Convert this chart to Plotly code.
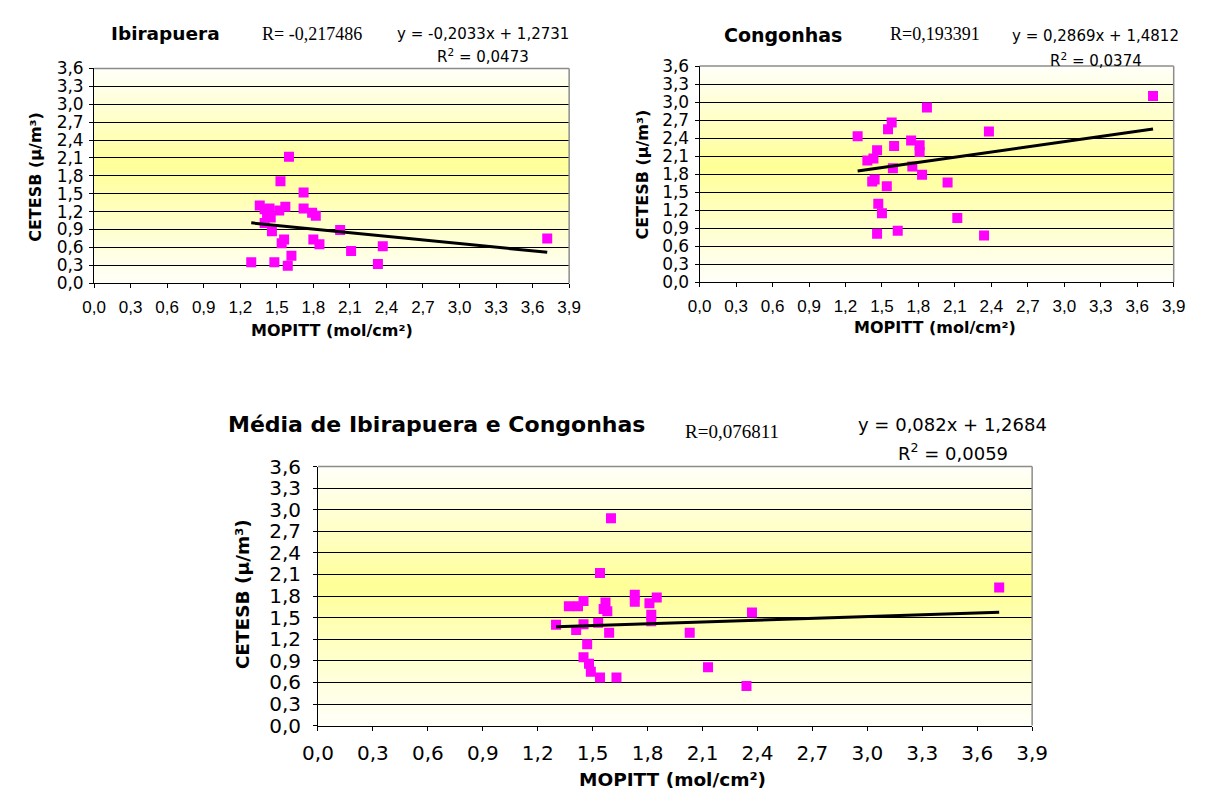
import plotly.graph_objects as go

# ---------------- data ----------------
mopitt_ibira = [1.29, 1.36, 1.40, 1.40, 1.42, 1.44, 1.45, 1.46, 1.48, 1.52, 1.53, 1.54, 1.56, 1.57,
                1.59, 1.60, 1.62, 1.72, 1.72, 1.79, 1.82, 1.80, 1.85, 2.02, 2.11, 2.33, 2.37, 3.72]
cetesb_ibira = [0.35, 1.30, 1.01, 1.24, 1.16, 1.25, 1.10, 0.87, 0.35, 1.22, 1.71, 0.67, 0.73, 1.28,
                0.29, 2.12, 0.46, 1.52, 1.25, 1.18, 1.13, 0.73, 0.65, 0.89, 0.54, 0.32, 0.62, 0.75]

mopitt_cong = [1.30, 1.38, 1.42, 1.43, 1.44, 1.46, 1.46, 1.47, 1.50, 1.54, 1.55, 1.58, 1.59, 1.60,
               1.63, 1.74, 1.75, 1.81, 1.81, 1.83, 1.87, 2.04, 2.12, 2.34, 2.38, 3.73]
cetesb_cong = [2.43, 2.03, 1.68, 2.06, 1.71, 2.20, 0.81, 1.31, 1.15, 1.60, 2.55, 2.66, 1.90, 2.27,
               0.86, 2.36, 1.93, 2.28, 2.17, 1.79, 2.91, 1.66, 1.07, 0.78, 2.51, 3.10]

mopitt_media = [1.30, 1.37, 1.41, 1.42, 1.45, 1.45, 1.45, 1.47, 1.48, 1.49, 1.53, 1.54, 1.54, 1.56,
                1.57, 1.58, 1.59, 1.60, 1.63, 1.73, 1.73, 1.81, 1.82, 1.82, 1.85, 2.03, 2.13, 2.34,
                2.37, 3.72]
cetesb_media = [1.40, 1.66, 1.33, 1.66, 1.41, 1.73, 0.95, 1.13, 0.86, 0.75, 1.43, 2.12, 0.67, 1.62,
                1.71, 1.59, 1.29, 2.88, 0.67, 1.82, 1.72, 1.70, 1.54, 1.45, 1.78, 1.29, 0.81, 0.55,
                1.57, 1.92]

# trend line coefficients (as printed on the chart)
trend_ibira = (-0.2033, 1.2731)
trend_cong = (0.2869, 1.4812)
trend_media = (0.082, 1.2684)

titles = ["Ibirapuera", "Congonhas", "Média de Ibirapuera e Congonhas"]
r_texts = ["R= -0,217486", "R=0,193391", "R=0,076811"]
eq_texts = ["y = -0,2033x + 1,2731", "y = 0,2869x + 1,4812", "y = 0,082x + 1,2684"]
r2_texts = ["R<sup>2</sup> = 0,0473", "R<sup>2</sup> = 0,0374", "R<sup>2</sup> = 0,0059"]
x_title = "MOPITT (mol/cm²)"
y_title = "CETESB (µ/m³)"

# ---------------- layout geometry (page pixels) ----------------
OFF = 8            # the page body adds an 8px margin around the figure
W, H = 1215 - OFF, 805 - OFF
NARROW = "Liberation Sans Narrow, Arial Narrow, Liberation Sans, sans-serif"
DEJA = "DejaVu Sans, Verdana, sans-serif"
SERIF = "Liberation Serif, Times New Roman, serif"

panels = [
    dict(box=(80, 568, 58, 279.3), xtf=(NARROW, 17), ytf=(DEJA, 17), xso=4, yso=2,
         ttl=18.5, r=18, eq=15, ax=16),
    dict(box=(702, 1189, 55.5, 278.5), xtf=(NARROW, 17), ytf=(DEJA, 17), xso=4, yso=2,
         ttl=19, r=18, eq=15, ax=16),
    dict(box=(310, 1043.6, 468.4, 735.5), xtf=(DEJA, 20), ytf=(DEJA, 20), xso=5, yso=8,
         ttl=22, r=19, eq=18, ax=18.5),
]
series = [(mopitt_ibira, cetesb_ibira, trend_ibira),
          (mopitt_cong, cetesb_cong, trend_cong),
          (mopitt_media, cetesb_media, trend_media)]

fig = go.Figure()
layout = dict(width=W, height=H, margin=dict(l=0, r=0, t=0, b=0),
              paper_bgcolor="white", plot_bgcolor="white", showlegend=False,
              separators=", ", shapes=[], annotations=[])


def px(x):
    return (x - OFF) / W


def py(y):
    return 1 - (y - OFF) / H


def grad(f):
    # f = fraction from bottom (0) to top (1)
    peak = 0.54
    if f <= peak:
        t = f / peak
    else:
        t = 1 - (f - peak) / (1 - peak)
    t = max(0.0, min(1.0, t)) ** 1.1
    top = (255, 255, 248)
    yel = (255, 255, 150)
    c = [round(top[i] + (yel[i] - top[i]) * t) for i in range(3)]
    return "rgb(%d,%d,%d)" % tuple(c)


N = 72
for i, (p, (xs, ys, (m, b))) in enumerate(zip(panels, series)):
    k = "" if i == 0 else str(i + 1)
    xa, ya = "x" + k, "y" + k
    x0, x1, yt, yb = p["box"]
    layout["xaxis" + k] = dict(domain=[px(x0), px(x1)], range=[0, 3.9], dtick=0.3, tick0=0,
                               tickformat=".1f", showgrid=False, zeroline=False,
                               showline=True, linecolor="black", linewidth=1,
                               ticks="outside", ticklen=4, tickcolor="black",
                               ticklabelstandoff=p["xso"],
                               tickfont=dict(family=p["xtf"][0], size=p["xtf"][1], color="black"),
                               anchor=ya, fixedrange=True)
    layout["yaxis" + k] = dict(domain=[py(yb), py(yt)], range=[0, 3.6], dtick=0.3, tick0=0,
                               tickformat=".1f", showgrid=True, gridcolor="black", gridwidth=1,
                               zeroline=False, showline=True, linecolor="black", linewidth=1,
                               ticks="outside", ticklen=4, tickcolor="black",
                               ticklabelstandoff=p["yso"],
                               tickfont=dict(family=p["ytf"][0], size=p["ytf"][1], color="black"),
                               anchor=xa, fixedrange=True)
    # gradient background strips
    for j in range(N):
        layout["shapes"].append(dict(type="rect", xref=xa + " domain", yref=ya + " domain",
                                     x0=0, x1=1, y0=j / N, y1=(j + 1) / N + 0.002,
                                     fillcolor=grad((j + 0.5) / N), line=dict(width=0),
                                     layer="below"))
    # gray frame (top and right edges)
    layout["shapes"].append(dict(type="line", xref=xa + " domain", yref=ya + " domain",
                                 x0=0, x1=1, y0=1, y1=1, line=dict(color="#8c8c8c", width=1.5),
                                 layer="above"))
    layout["shapes"].append(dict(type="line", xref=xa + " domain", yref=ya + " domain",
                                 x0=1, x1=1, y0=0, y1=1, line=dict(color="#8c8c8c", width=1.5),
                                 layer="above"))

    fig.add_trace(go.Scatter(x=xs, y=ys, mode="markers", xaxis=xa, yaxis=ya,
                             marker=dict(symbol="square", size=10, color="#FF00FF",
                                         line=dict(width=0))))
    tx = [min(xs), max(xs)]
    fig.add_trace(go.Scatter(x=tx, y=[m * v + b for v in tx], mode="lines", xaxis=xa, yaxis=ya,
                             line=dict(color="black", width=3)))


# ---------------- texts ----------------
def ann(text, x, y, size, bold=False, family=DEJA, angle=0):
    layout["annotations"].append(dict(
        text=("<b>%s</b>" % text) if bold else text, x=px(x), y=py(y),
        xref="paper", yref="paper", xanchor="center", yanchor="middle",
        showarrow=False, textangle=angle, font=dict(family=family, size=size, color="black")))


text_pos = [
    dict(t=(153, 22), r=(304, 22), e=(480, 22), r2=(480, 45), xt=(324, 328), yt=(19, 170)),
    dict(t=(788, 23), r=(944, 22), e=(1109, 25), r2=(1109, 49), xt=(944, 325), yt=(643, 167)),
    dict(t=(432, 425), r=(735, 432), e=(962, 425), r2=(962, 453), xt=(674, 791), yt=(232, 600)),
]
for i, (p, tp) in enumerate(zip(panels, text_pos)):
    ann(titles[i], *tp["t"], p["ttl"], bold=True)
    ann(r_texts[i], *tp["r"], p["r"], family=SERIF)
    ann(eq_texts[i], *tp["e"], p["eq"])
    ann(r2_texts[i], *tp["r2"], p["eq"])
    ann(x_title, *tp["xt"], p["ax"], bold=True)
    ann(y_title, *tp["yt"], p["ax"], bold=True, angle=-90)

fig.update_layout(**layout)
fig.write_html("out.html", config={"displayModeBar": False})
